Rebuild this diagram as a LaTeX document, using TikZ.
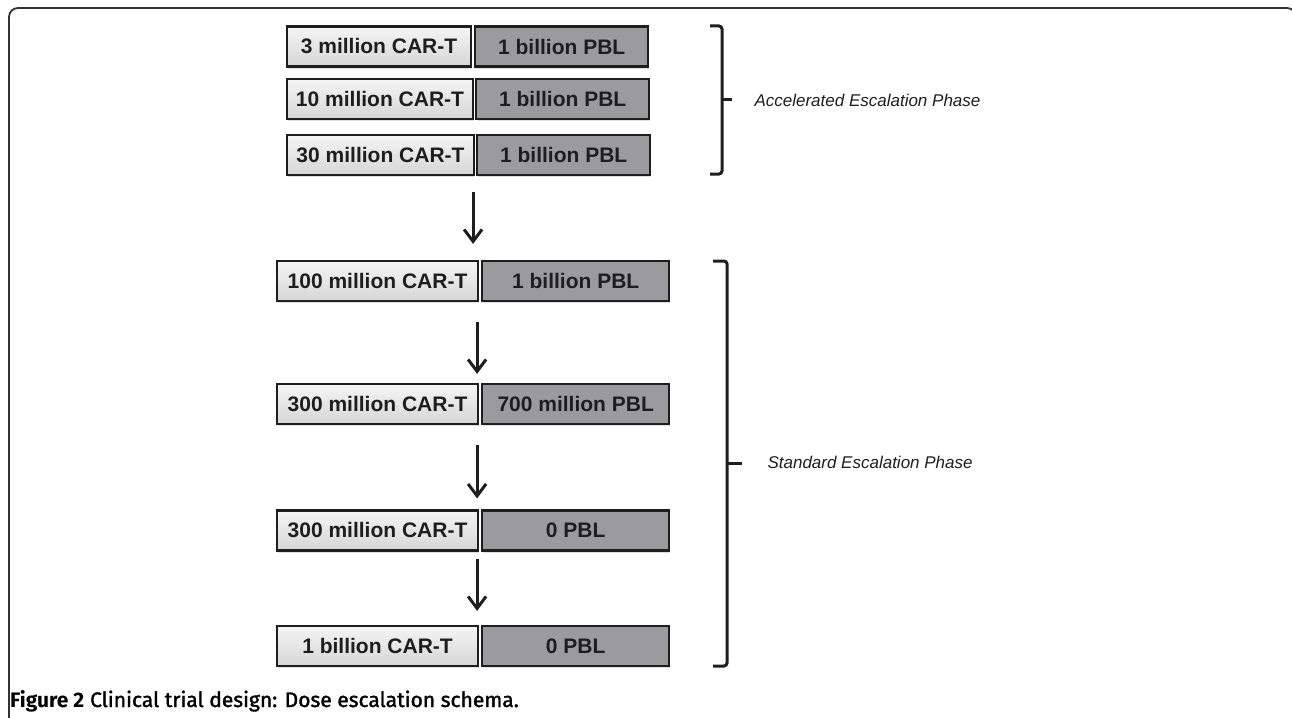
\documentclass[tikz,border=0pt]{standalone}
\usepackage{fontspec}
\setmainfont{Liberation Sans}
\newfontfamily\capfont{Fira Sans}
\font\capmid="Fira Sans:embolden=1.6" at 21pt
\usetikzlibrary{positioning,shadows,arrows.meta}

\definecolor{edge}{HTML}{1E1E1E}
\definecolor{pbl}{HTML}{9B9B9D}

\begin{document}
\begin{tikzpicture}[x=1pt,y=-1pt,
  cell/.style={draw=edge, line width=2.2pt, minimum height=40pt, inner sep=0pt,
    font=\fontsize{21}{24}\selectfont\bfseries, text=edge,
    drop shadow={shadow xshift=1pt, shadow yshift=-2pt, opacity=0.25}},
  carbox/.style={cell, top color=white!96!black, bottom color=white!84!black},
  pblbox/.style={cell, fill=pbl},
  arr/.style={-{Straight Barb[length=12pt,width=18pt,line width=3pt]}, line width=3pt, draw=edge},
  brace/.style={draw=edge, line width=3pt, rounded corners=3pt},
  phase/.style={anchor=west, font=\fontsize{17}{20}\selectfont\itshape, text=edge}]
\useasboundingbox (0,0) rectangle (1292,717);
% frame
\draw[draw=black!80, line width=1.8pt, rounded corners=9pt] (9,724) -- (9,8) -- (1296,8) -- (1296,724);
% accelerated phase
\node[carbox, minimum width=184pt] (r1L) at (379,46.5) {3 million CAR-T};
\node[pblbox, minimum width=173pt, right=2pt of r1L] (r1P) {1 billion PBL};
\node[carbox, minimum width=186pt] (r2L) at (380,99) {10 million CAR-T};
\node[pblbox, minimum width=173pt, right=1pt of r2L] (r2P) {1 billion PBL};
\node[carbox, minimum width=187pt] (r3L) at (380.5,155) {30 million CAR-T};
\node[pblbox, minimum width=173pt, right=1pt of r3L] (r3P) {1 billion PBL};
% standard phase
\node[carbox, minimum width=201pt] (r4L) at (377.5,281) {100 million CAR-T};
\node[pblbox, minimum width=187pt, right=2pt of r4L] (r4P) {1 billion PBL};
\node[carbox, minimum width=201pt] (r5L) at (377.5,404) {300 million CAR-T};
\node[pblbox, minimum width=187pt, right=2pt of r5L] (r5P) {700 million PBL};
\node[carbox, minimum width=201pt] (r6L) at (377.5,530.5) {300 million CAR-T};
\node[pblbox, minimum width=187pt, right=2pt of r6L] (r6P) {0 PBL};
\node[carbox, minimum width=201pt] (r7L) at (377.5,646) {1 billion CAR-T};
\node[pblbox, minimum width=187pt, right=2pt of r7L] (r7P) {0 PBL};
% arrows
\draw[arr, shorten <=16pt, shorten >=16pt] ([xshift=-2pt]r3L.south east) -- ([xshift=-2pt]r3L.south east |- r4L.north);
\draw[arr, shorten <=20pt, shorten >=9pt] ([xshift=-2pt]r4L.south east) -- ([xshift=-2pt]r5L.north east);
\draw[arr, shorten <=20pt, shorten >=11pt] ([xshift=-2pt]r5L.south east) -- ([xshift=-2pt]r6L.north east);
\draw[arr, shorten <=7pt, shorten >=14pt] ([xshift=-2pt]r6L.south east) -- ([xshift=-2pt]r7L.north east);
% brackets
\draw[brace] (710,26) -- (722,26) -- (722,174) -- (710,174);
\draw[brace] (722,99) -- (732,99);
\node[phase] (acc) at (751,100) {Accelerated Escalation Phase};
\draw[brace] (713,261) -- (727,261) -- (727,666) -- (713,666);
\draw[brace] (727,463) -- (742,463);
\node[phase] (std) at (764,462) {Standard Escalation Phase};
% caption
\node[anchor=base west, inner sep=0pt, font=\fontsize{21}{25}\selectfont] (cap) at (10,707)
  {{\capfont\bfseries Figure 2} {\capmid Clinical trial design: Dose escalation schema.}};
\end{tikzpicture}
\end{document}
